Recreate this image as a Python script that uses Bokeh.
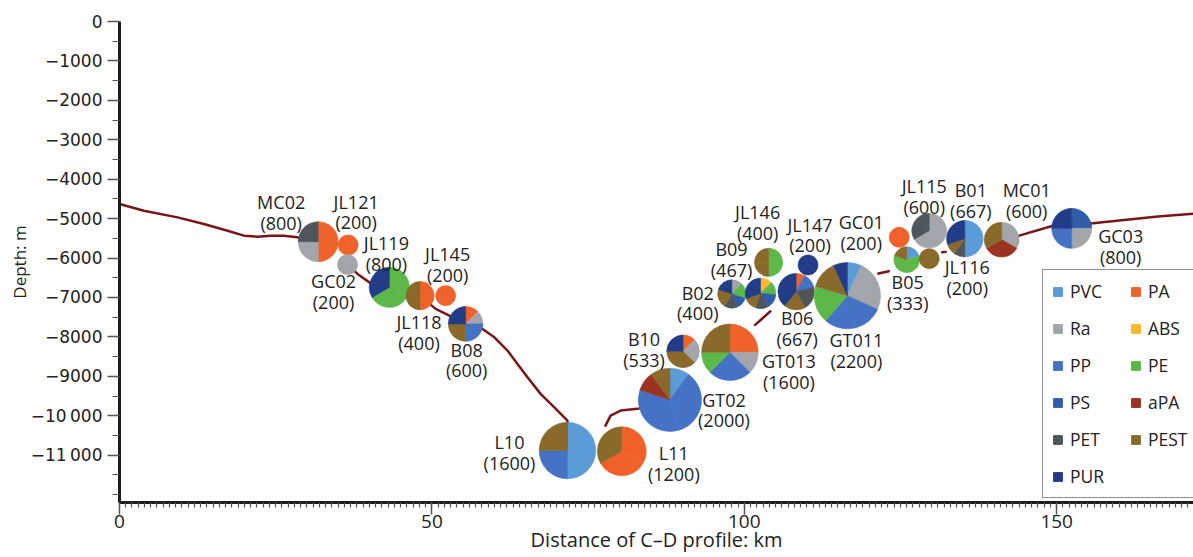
import numpy as np
from bokeh.plotting import figure
from bokeh.models import ColumnDataSource, FixedTicker, Legend, LegendItem
from bokeh.embed import file_html
from bokeh.resources import INLINE

# ---------------- data ----------------
MATERIALS = ["PVC", "PA", "Ra", "ABS", "PP", "PE", "PS", "aPA", "PET", "PEST", "PUR"]

STATIONS = ["MC02", "JL121", "GC02", "JL119", "JL118", "JL145", "B08", "L10", "L11",
            "GT02", "B10", "GT013", "B02", "B09", "JL146", "JL147", "B06", "GT011",
            "GC01", "B05", "JL116", "JL115", "B01", "MC01", "GC03"]
DIST_KM = [31.8, 36.6, 36.5, 43.2, 48.1, 52.2, 55.4, 71.7, 80.4,
           88.1, 90.2, 97.7, 98.0, 102.6, 103.9, 110.2, 108.3, 116.5,
           124.8, 126.0, 129.6, 129.6, 135.3, 141.2, 152.4]
DEPTH_M = [-5584, -5668, -6167, -6743, -6953, -6953, -7670, -10882, -10900,
           -9597, -8365, -8390, -6910, -6895, -6109, -6175, -6852, -6953,
           -5475, -6041, -6015, -5306, -5508, -5534, -5247]
CONC = [800, 200, 200, 800, 400, 200, 600, 1600, 1200,
        2000, 533, 1600, 400, 467, 400, 200, 667, 2200,
        200, 333, 200, 600, 667, 600, 800]
# polymer composition of each station (clockwise from 12 o'clock)
COMPOSITION = [
    [("PA", 400), ("Ra", 200), ("PET", 200)],
    [("PA", 200)],
    [("Ra", 200)],
    [("PE", 533), ("PUR", 267)],
    [("PA", 200), ("PEST", 200)],
    [("PA", 200)],
    [("PA", 75), ("Ra", 75), ("PP", 150), ("PEST", 150), ("PUR", 150)],
    [("PVC", 800), ("PP", 400), ("PEST", 400)],
    [("PA", 800), ("PEST", 400)],
    [("PVC", 200), ("PP", 1400), ("aPA", 200), ("PEST", 200)],
    [("PA", 67), ("Ra", 133), ("PEST", 200), ("PUR", 133)],
    [("PA", 400), ("Ra", 200), ("PP", 400), ("PE", 200), ("PEST", 400)],
    [("Ra", 50), ("PE", 70), ("PS", 55), ("PET", 60), ("PEST", 85), ("PUR", 80)],
    [("ABS", 58), ("PE", 65), ("PS", 71), ("PET", 65), ("PEST", 65), ("PUR", 143)],
    [("PE", 200), ("PEST", 200)],
    [("PUR", 200)],
    [("PA", 50), ("PP", 90), ("PET", 140), ("PEST", 127), ("PUR", 260)],
    [("PVC", 150), ("Ra", 550), ("PP", 650), ("PE", 400), ("PEST", 300), ("PUR", 150)],
    [("PA", 200)],
    [("PVC", 67), ("PE", 200), ("PEST", 66)],
    [("PEST", 200)],
    [("Ra", 400), ("PET", 200)],
    [("PVC", 333), ("PET", 67), ("PEST", 67), ("PUR", 200)],
    [("Ra", 200), ("aPA", 200), ("PEST", 200)],
    [("PS", 200), ("Ra", 200), ("PP", 200), ("PUR", 200)],
]

# seafloor profile (NaN = gap in the drawn line)
NAN = float("nan")
PROFILE_KM = [0.0, 3.9, 9.3, 13.5, 17.3, 19.9, 22.1, 24.2, 26.3, 28.5, 31.8, NAN,
              36.5, 38.1, 40.5, 43.2, 48.1, 50.6, 52.8, 55.4, 58.1, 60.0, 62.1, 63.7,
              65.3, 67.4, 69.6, 71.7, 71.7, NAN,
              77.7, 78.6, 80.2, 82.9, 88.1, NAN,
              101.6, 104.3, NAN,
              121.3, 123.3, NAN,
              131.5, 132.4, NAN,
              141.2, 144.0, 149.4, 152.4, 155.8, 160.8, 166.2, 172.0]
PROFILE_DEPTH = [-4630, -4800, -4968, -5136, -5306, -5432, -5458, -5432, -5432, -5475, -5584, NAN,
                 -6167, -6403, -6674, -6743, -6953, -7288, -7460, -7670, -7797, -8010, -8347, -8684,
                 -9024, -9445, -9785, -10122, -10882, NAN,
                 -10274, -9995, -9868, -9825, -9597, NAN,
                 -7714, -7332, NAN,
                 -6400, -6330, NAN,
                 -5856, -5838, NAN,
                 -5534, -5432, -5179, -5180, -5120, -5034, -4943, -4875]

Y_TICKS = [0, -1000, -2000, -3000, -4000, -5000, -6000, -7000, -8000, -9000, -10000, -11000]
Y_TICK_LABELS = ["0", "\u22121000", "\u22122000", "\u22123000", "\u22124000", "\u22125000",
                 "\u22126000", "\u22127000", "\u22128000", "\u22129000",
                 "\u221210\u2009000", "\u221211\u2009000"]
X_TICKS = [0, 50, 100, 150]
X_TICK_LABELS = ["0", "50", "100", "150"]
X_TITLE = "Distance of C\u2013D profile: km"
Y_TITLE = "Depth: m"

# ---------------- styles / layout ----------------
PALETTE = {"PVC": "#5a9bd8", "PA": "#f0622a", "Ra": "#a2a5a9", "ABS": "#f9b928",
           "PP": "#4672c6", "PE": "#5cb848", "PS": "#2f5dab", "aPA": "#9c3322",
           "PET": "#4f555b", "PEST": "#8a6a2b", "PUR": "#233c88"}
PIE_PX_PER_SQRT = 0.707          # pie radius (px) = k * sqrt(concentration)
LABEL_OFFSETS = [(-37, -29), (8, -33), (-14, 27), (-3, -34), (-1, 37), (2, -31), (1, 36),
                 (-58, 2), (52, 12), (54, 10), (-39, -2), (59, 19), (-34, 9), (-29, -34),
                 (-11, -40), (2, -30), (1, 37), (9, 55), (-38, -5), (1, 33), (38, 19),
                 (-5, -34), (6, -38), (25, -39), (49, 18)]
FONT = "Open Sans"
NARROW = "Liberation Sans Narrow, Open Sans"
TXT = "#222222"

p = figure(width=1193, height=557, x_range=(0, 171.9), y_range=(-12200, 0),
           output_backend="svg", toolbar_location=None,
           min_border_left=119, min_border_right=0, min_border_top=21, min_border_bottom=55)
p.outline_line_color = None
p.xgrid.visible = False
p.ygrid.visible = False
p.background_fill_color = "white"
p.border_fill_color = "white"

# profile line
p.line(PROFILE_KM, PROFILE_DEPTH, line_color="#7a1518", line_width=2.5, line_join="round")

# pies
w = dict(x=[], y=[], r=[], start=[], end=[], color=[])
for xk, d, c, comp in zip(DIST_KM, DEPTH_M, CONC, COMPOSITION):
    total = float(sum(v for _, v in comp))
    rad = PIE_PX_PER_SQRT * np.sqrt(c)
    cum = 0.0
    for mat, v in comp:
        f0, f1 = cum / total, (cum + v) / total
        cum += v
        n = int(np.ceil((f1 - f0) / 0.45 - 1e-9))
        for k in range(n):
            a = f0 + (f1 - f0) * k / n
            b = f0 + (f1 - f0) * (k + 1) / n
            w["x"].append(xk); w["y"].append(d); w["r"].append(rad)
            w["start"].append(np.pi / 2 - 2 * np.pi * b)
            w["end"].append(np.pi / 2 - 2 * np.pi * a)
            w["color"].append(PALETTE[mat])
p.wedge(x="x", y="y", radius="r", radius_units="screen", start_angle="start", end_angle="end",
        fill_color="color", line_color="color", line_width=0.6, source=ColumnDataSource(w))

# station labels
lab = ColumnDataSource(dict(
    x=DIST_KM, y=DEPTH_M,
    text=[f"{s}\n({c})" for s, c in zip(STATIONS, CONC)],
    dx=[o[0] for o in LABEL_OFFSETS], dy=[o[1] for o in LABEL_OFFSETS]))
p.text(x="x", y="y", text="text", x_offset="dx", y_offset="dy", source=lab,
       text_align="center", text_baseline="middle", text_font_size="18px",
       text_font={"value": FONT}, text_color=TXT, text_line_height=0.86)

# axes
p.yaxis.ticker = FixedTicker(ticks=Y_TICKS, minor_ticks=list(range(-12000, 1, 500)))
p.yaxis.major_label_overrides = {t: s for t, s in zip(Y_TICKS, Y_TICK_LABELS)}
p.xaxis.ticker = FixedTicker(ticks=X_TICKS, minor_ticks=list(range(0, 172)))
p.xaxis.major_label_overrides = {t: s for t, s in zip(X_TICKS, X_TICK_LABELS)}
for ax in (p.xaxis[0], p.yaxis[0]):
    ax.axis_line_color = "#1c1c1c"
    ax.axis_line_width = 3
    ax.major_tick_line_color = "#555555"
    ax.minor_tick_line_color = "#555555"
    ax.major_tick_line_width = 1.5
    ax.minor_tick_line_width = 1.2
    ax.major_tick_in = 0
    ax.minor_tick_in = 0
    ax.major_label_text_color = TXT
    ax.axis_label_text_color = TXT
    ax.axis_label_text_font_style = "normal"
p.yaxis.major_label_text_font = "DejaVu Sans"
p.yaxis.major_label_text_font_size = "17px"
p.yaxis.major_tick_out = 12
p.yaxis.minor_tick_out = 7
p.yaxis.major_label_standoff = 5
p.yaxis.axis_label = Y_TITLE
p.yaxis.axis_label_text_font = FONT
p.yaxis.axis_label_text_font_size = "17px"
p.yaxis.axis_label_standoff = -3
p.xaxis.major_label_text_font = NARROW
p.xaxis.major_label_text_font_size = "19px"
p.xaxis.major_tick_out = 12
p.xaxis.minor_tick_out = 5
p.xaxis.major_label_standoff = 0
p.xaxis.axis_label = X_TITLE
p.xaxis.axis_label_text_font = NARROW
p.xaxis.axis_label_text_font_size = "20px"
p.xaxis.axis_label_standoff = -5

# legend
items = []
for m in MATERIALS:
    r = p.rect(x=[NAN], y=[NAN], width=1, height=1, fill_color=PALETTE[m], line_color=PALETTE[m])
    items.append(LegendItem(label=m, renderers=[r]))
legend = Legend(items=items, orientation="horizontal", ncols=2, location=(923, 4),
                label_text_font=FONT, label_text_font_size="17.5px", label_text_color=TXT,
                glyph_width=11, glyph_height=11, label_standoff=7, label_width=47,
                label_height=23, spacing=13, padding=9, margin=0,
                border_line_color="#222222", border_line_width=1.5,
                background_fill_color="white", background_fill_alpha=1.0)
p.add_layout(legend)

open("out.html", "w").write(file_html(p, INLINE))
